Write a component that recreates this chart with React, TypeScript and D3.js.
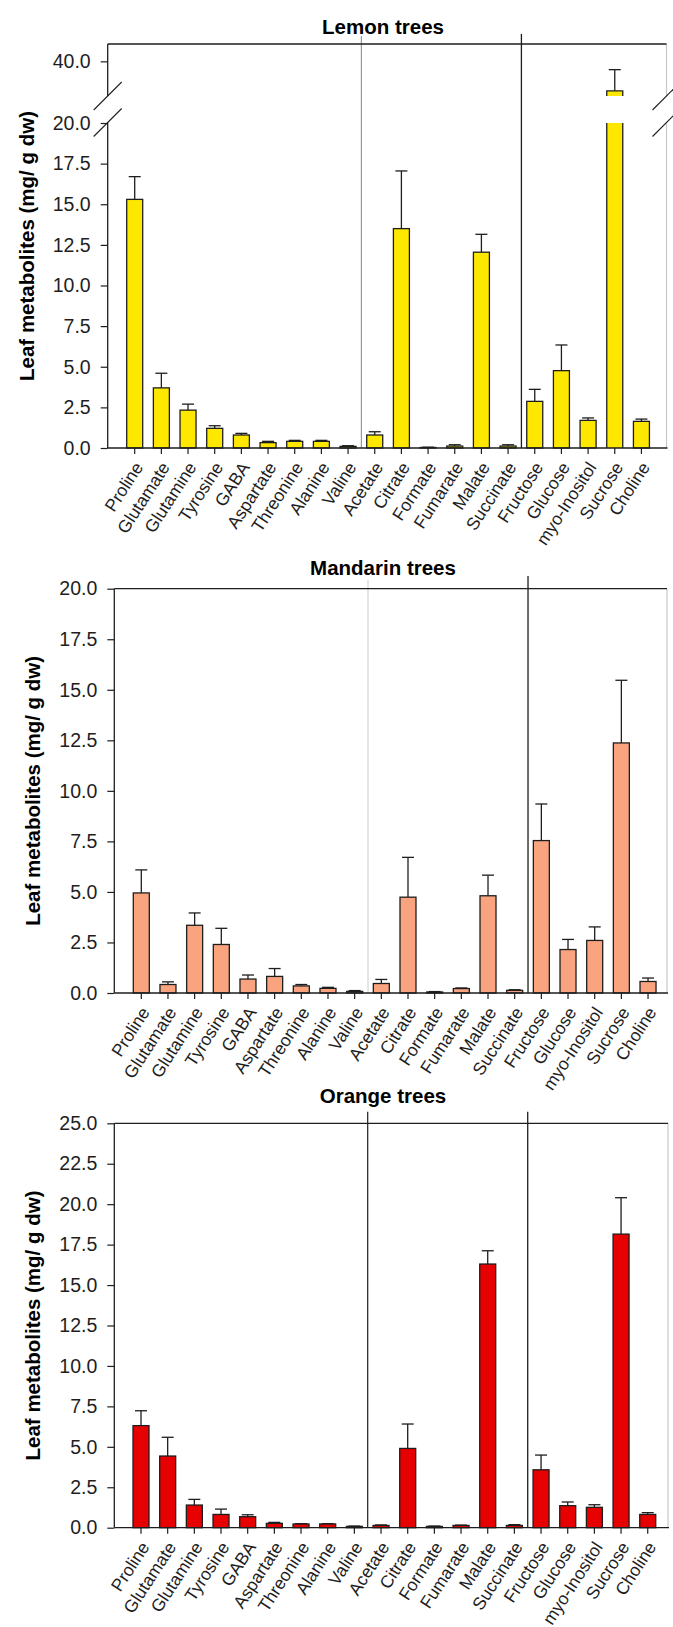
import * as d3 from 'd3'
import { useEffect, useRef } from 'react'

// categories on the x axis (same order in the three panels)
const metabolites = [
  'Proline', 'Glutamate', 'Glutamine', 'Tyrosine', 'GABA', 'Aspartate', 'Threonine', 'Alanine', 'Valine',
  'Acetate', 'Citrate', 'Formate', 'Fumarate', 'Malate', 'Succinate',
  'Fructose', 'Glucose', 'myo-Inositol', 'Sucrose', 'Choline',
]

// lemon means and upper error (mg/ g dw)
const lemonMeans = [15.3, 3.7, 2.33, 1.21, 0.8, 0.33, 0.41, 0.41, 0.1, 0.8, 13.5, 0.03, 0.12, 12.05, 0.12, 2.87, 4.76, 1.7, 31.5, 1.64]
const lemonErrors = [1.4, 0.9, 0.37, 0.16, 0.1, 0.08, 0.06, 0.06, 0.04, 0.2, 3.55, 0.02, 0.08, 1.1, 0.08, 0.74, 1.58, 0.15, 6.1, 0.14]

// mandarin
const mandarinMeans = [4.95, 0.42, 3.35, 2.4, 0.69, 0.82, 0.35, 0.23, 0.08, 0.47, 4.74, 0.05, 0.22, 4.81, 0.13, 7.54, 2.15, 2.6, 12.37, 0.57]
const mandarinErrors = [1.14, 0.13, 0.61, 0.8, 0.2, 0.39, 0.07, 0.05, 0.04, 0.2, 1.97, 0.02, 0.03, 1.02, 0.03, 1.81, 0.5, 0.67, 3.1, 0.17]

// orange
const orangeMeans = [6.31, 4.43, 1.4, 0.82, 0.68, 0.27, 0.23, 0.23, 0.08, 0.14, 4.9, 0.08, 0.14, 16.3, 0.14, 3.58, 1.36, 1.26, 18.15, 0.82]
const orangeErrors = [0.92, 1.16, 0.35, 0.33, 0.12, 0.06, 0.02, 0.02, 0.02, 0.03, 1.51, 0.02, 0.02, 0.82, 0.05, 0.91, 0.23, 0.16, 2.25, 0.11]

// tick values
const lemonLowTicks = [0, 2.5, 5, 7.5, 10, 12.5, 15, 17.5, 20]
const lemonHighTicks = [40]
const mandarinTicks = [0, 2.5, 5, 7.5, 10, 12.5, 15, 17.5, 20]
const orangeTicks = [0, 2.5, 5, 7.5, 10, 12.5, 15, 17.5, 20, 22.5, 25]

const FONT = 'Arial, "Liberation Sans", sans-serif'
const INK = '#1e1e1e'

interface Panel {
  title: string
  means: number[]
  errors: number[]
  fill: string
  left: number
  right: number
  top: number
  base: number
  lowMax: number
  lowTop: number
  ticks: number[]
  firstCenter: number
  titleY: number
  labelX: number
  divider1: string
  divider1Top: number
  divider2Top: number
  // broken axis (lemon only)
  high?: { domain: [number, number]; bottom: number; ticks: number[]; gapBottom: number }
}

const step = 26.67

const drawPanel = (svg: d3.Selection<SVGSVGElement, unknown, null, undefined>, p: Panel) => {
  const g = svg.append('g')
  const n = metabolites.length
  const x = d3
    .scaleBand<string>()
    .domain(metabolites)
    .range([p.firstCenter - step / 2, p.firstCenter - step / 2 + step * n])
    .paddingInner(0.4)
    .paddingOuter(0.2)
  const bw = x.bandwidth()
  const cx = (name: string) => (x(name) as number) + bw / 2

  const yLow = d3.scaleLinear().domain([0, p.lowMax]).range([p.base, p.lowTop])
  const yHigh = p.high ? d3.scaleLinear().domain(p.high.domain).range([p.high.bottom, p.top]) : null

  // title
  g.append('text')
    .attr('x', 383)
    .attr('y', p.titleY)
    .attr('text-anchor', 'middle')
    .style('font-family', FONT)
    .style('font-weight', 'bold')
    .style('font-size', '20.5px')
    .text(p.title)

  // y label
  g.append('text')
    .attr('transform', `translate(${p.labelX}, ${(p.top + p.base) / 2}) rotate(-90)`)
    .attr('text-anchor', 'middle')
    .attr('dominant-baseline', 'central')
    .style('font-family', FONT)
    .style('font-weight', 'bold')
    .style('font-size', '20.5px')
    .text('Leaf metabolites (mg/ g dw)')

  // group dividers
  const div1 = (cx(metabolites[8]) + cx(metabolites[9])) / 2
  const div2 = (cx(metabolites[14]) + cx(metabolites[15])) / 2
  g.append('line')
    .attr('x1', div1).attr('x2', div1)
    .attr('y1', p.divider1Top).attr('y2', p.base)
    .attr('stroke', p.divider1).attr('stroke-width', 1.2)
  g.append('line')
    .attr('x1', div2).attr('x2', div2)
    .attr('y1', p.divider2Top).attr('y2', p.base)
    .attr('stroke', INK).attr('stroke-width', 1.3)

  // right border (light)
  if (p.high) {
    g.append('line').attr('x1', p.right).attr('x2', p.right).attr('y1', p.top).attr('y2', p.high.bottom)
      .attr('stroke', '#c8c8c8').attr('stroke-width', 1.2)
    g.append('line').attr('x1', p.right).attr('x2', p.right).attr('y1', p.high.gapBottom).attr('y2', p.base)
      .attr('stroke', '#c8c8c8').attr('stroke-width', 1.2)
  } else {
    g.append('line').attr('x1', p.right).attr('x2', p.right).attr('y1', p.top).attr('y2', p.base)
      .attr('stroke', '#c8c8c8').attr('stroke-width', 1.2)
  }

  // top line
  g.append('line').attr('x1', p.left).attr('x2', p.right).attr('y1', p.top).attr('y2', p.top)
    .attr('stroke', INK).attr('stroke-width', 1.3)

  // error bars
  metabolites.forEach((m, i) => {
    const v = p.means[i]
    const e = p.errors[i]
    const broken = yHigh && v > p.lowMax
    const yS = broken ? yHigh! : yLow
    const c = cx(m)
    g.append('line').attr('x1', c).attr('x2', c).attr('y1', yS(v)).attr('y2', yS(v + e))
      .attr('stroke', INK).attr('stroke-width', 1.3)
    g.append('line').attr('x1', c - 6).attr('x2', c + 6).attr('y1', yS(v + e)).attr('y2', yS(v + e))
      .attr('stroke', INK).attr('stroke-width', 1.3)
  })

  // bars
  metabolites.forEach((m, i) => {
    const v = p.means[i]
    const x0 = x(m) as number
    if (yHigh && p.high && v > p.lowMax) {
      const yb = p.high.bottom
      const yt = yHigh(v)
      g.append('rect').attr('x', x0).attr('y', yt).attr('width', bw).attr('height', yb - yt).attr('fill', p.fill)
      g.append('path').attr('d', `M${x0},${yb}V${yt}H${x0 + bw}V${yb}`)
        .attr('fill', 'none').attr('stroke', INK).attr('stroke-width', 1.3)
      const yl = yLow(p.lowMax)
      g.append('rect').attr('x', x0).attr('y', yl).attr('width', bw).attr('height', p.base - yl).attr('fill', p.fill)
      g.append('path').attr('d', `M${x0},${yl}V${p.base}M${x0 + bw},${yl}V${p.base}`)
        .attr('fill', 'none').attr('stroke', INK).attr('stroke-width', 1.3)
    } else {
      g.append('rect').attr('x', x0).attr('y', yLow(v)).attr('width', bw).attr('height', p.base - yLow(v))
        .attr('fill', p.fill).attr('stroke', INK).attr('stroke-width', 1.3)
    }
  })

  // y axis
  const yAxis = d3.axisLeft(yLow).tickValues(p.ticks).tickSize(7).tickPadding(10).tickFormat(d3.format('.1f'))
  const ya = g.append('g').attr('transform', `translate(${p.left},0)`).call(yAxis)
  ya.select('.domain').remove()
  if (yHigh && p.high) {
    const yAxisHigh = d3.axisLeft(yHigh).tickValues(p.high.ticks).tickSize(7).tickPadding(10).tickFormat(d3.format('.1f'))
    const yh = g.append('g').attr('transform', `translate(${p.left},0)`).call(yAxisHigh)
    yh.select('.domain').remove()
    g.append('line').attr('x1', p.left).attr('x2', p.left).attr('y1', p.top).attr('y2', p.high.bottom)
      .attr('stroke', INK).attr('stroke-width', 1.3)
    g.append('line').attr('x1', p.left).attr('x2', p.left).attr('y1', p.high.gapBottom).attr('y2', p.base)
      .attr('stroke', INK).attr('stroke-width', 1.3)
    // break marks
    ;[p.left, p.right].forEach((bx) => {
      ;[p.high!.bottom, p.high!.gapBottom].forEach((by) => {
        g.append('line').attr('x1', bx - 14).attr('y1', by + 14).attr('x2', bx + 14).attr('y2', by - 14)
          .attr('stroke', INK).attr('stroke-width', 1.1)
      })
    })
  } else {
    g.append('line').attr('x1', p.left).attr('x2', p.left).attr('y1', p.top).attr('y2', p.base)
      .attr('stroke', INK).attr('stroke-width', 1.3)
  }
  g.selectAll('.tick text').style('font-family', FONT).style('font-size', '19.5px').attr('fill', INK)
  g.selectAll('.tick line').attr('stroke', INK).attr('stroke-width', 1.2)

  // x axis
  g.append('line').attr('x1', p.left).attr('x2', p.right + 1).attr('y1', p.base).attr('y2', p.base)
    .attr('stroke', INK).attr('stroke-width', 1.3)
  metabolites.forEach((m) => {
    const c = cx(m)
    g.append('line').attr('x1', c).attr('x2', c).attr('y1', p.base).attr('y2', p.base + 6)
      .attr('stroke', INK).attr('stroke-width', 1.2)
    g.append('text')
      .attr('transform', `translate(${c + 4}, ${p.base + 16}) rotate(-57)`)
      .attr('text-anchor', 'end')
      .attr('dominant-baseline', 'central')
      .style('font-family', FONT)
      .style('font-size', '17.5px')
      .attr('fill', INK)
      .text(m)
  })
}

const App = () => {
  const svgRef = useRef<SVGSVGElement>(null)

  useEffect(() => {
    const svg = d3.select(svgRef.current as SVGSVGElement)
    svg.selectAll('*').remove()

    drawPanel(svg, {
      title: 'Lemon trees',
      means: lemonMeans,
      errors: lemonErrors,
      fill: '#FFE800',
      left: 107.7,
      right: 666.5,
      top: 44,
      base: 448,
      lowMax: 20,
      lowTop: 123,
      ticks: lemonLowTicks,
      firstCenter: 134.7,
      titleY: 34,
      labelX: 26,
      divider1: '#9a9a9a',
      divider1Top: 36,
      divider2Top: 34,
      high: { domain: [30, 45], bottom: 96, ticks: lemonHighTicks, gapBottom: 122.5 },
    })

    drawPanel(svg, {
      title: 'Mandarin trees',
      means: mandarinMeans,
      errors: mandarinErrors,
      fill: '#F9A37F',
      left: 114.3,
      right: 667,
      top: 588.7,
      base: 993,
      lowMax: 20,
      lowTop: 588.7,
      ticks: mandarinTicks,
      firstCenter: 141.3,
      titleY: 575,
      labelX: 32,
      divider1: '#d4d4d4',
      divider1Top: 580,
      divider2Top: 576,
    })

    drawPanel(svg, {
      title: 'Orange trees',
      means: orangeMeans,
      errors: orangeErrors,
      fill: '#E60000',
      left: 114.3,
      right: 668,
      top: 1123.3,
      base: 1527.7,
      lowMax: 25,
      lowTop: 1123.3,
      ticks: orangeTicks,
      firstCenter: 141,
      titleY: 1103,
      labelX: 32,
      divider1: INK,
      divider1Top: 1111.7,
      divider2Top: 1111.7,
    })
  }, [])

  return (
    <svg
      ref={svgRef}
      width={673}
      height={1627}
      style={{ position: 'absolute', left: 0, top: 0, background: '#fff' }}
    />
  )
}

export default App
